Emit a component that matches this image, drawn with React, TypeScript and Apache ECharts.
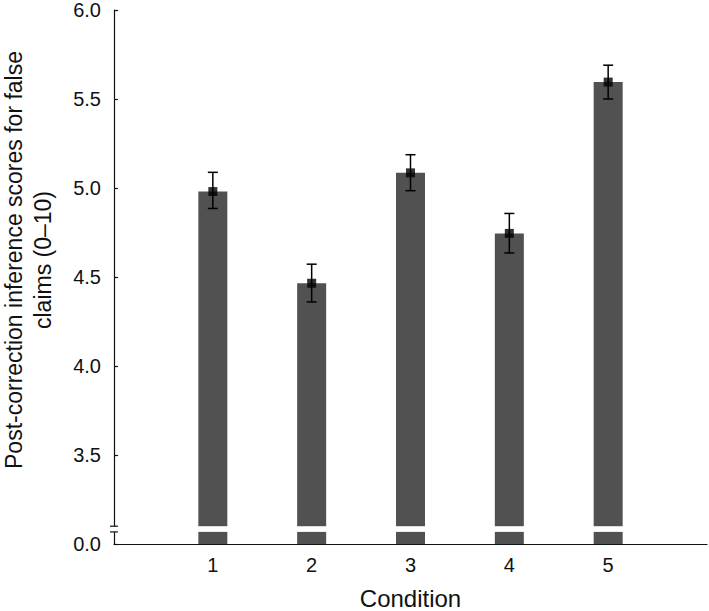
import React, { useEffect, useRef } from "react";
import * as echarts from "echarts";

// Data
const conditions = [1, 2, 3, 4, 5];
const means = [4.98, 4.465, 5.085, 4.745, 5.595];
const errLow = [4.885, 4.36, 4.985, 4.635, 5.5];
const errHigh = [5.088, 4.572, 5.187, 4.857, 5.69];
const yTicks = [3.0, 3.5, 4.0, 4.5, 5.0, 5.5, 6.0];

// Axis break (the bottom of the axis stands for 0.0)
const AXIS_MIN = 3.0;
const AXIS_MAX = 6.0;
const BREAK_LOW = 3.068;
const BREAK_HIGH = 3.1;

const FONT = "Liberation Sans, Arial, Helvetica, sans-serif";
const BAR_WIDTH = 29;

export default function App() {
  const ref = useRef<HTMLDivElement>(null);

  useEffect(() => {
    if (!ref.current) return;
    const chart = echarts.init(ref.current, undefined, { renderer: "svg" });

    const barData = conditions.map((c, i) => [c, means[i]]);
    const gapData = conditions.map((c) => [c, BREAK_LOW, BREAK_HIGH]);
    const errData = conditions.map((c, i) => [c, errLow[i], errHigh[i]]);
    const pointData = conditions.map((c, i) => [c, means[i]]);

    const barColor = "#515151";

    chart.setOption({
      animation: false,
      backgroundColor: "#ffffff",
      grid: {
        left: 114,
        right: 2,
        top: 10,
        bottom: 67,
        containLabel: false,
        outerBoundsMode: "none",
      },
      xAxis: {
        type: "value",
        min: 0,
        max: 6,
        interval: 1,
        name: "Condition",
        nameLocation: "middle",
        nameGap: 42,
        nameTextStyle: { fontFamily: FONT, fontSize: 24, color: "#111" },
        axisLine: { show: true, onZero: false, lineStyle: { color: "#111", width: 1.2 } },
        axisTick: { show: false },
        splitLine: { show: false },
        axisLabel: {
          fontFamily: FONT,
          fontSize: 20,
          color: "#111",
          margin: 11,
          formatter: (v: number) => (v >= 1 && v <= 5 ? String(v) : ""),
        },
      },
      yAxis: {
        type: "value",
        min: AXIS_MIN,
        max: AXIS_MAX,
        interval: 0.5,
        name: "Post-correction inference scores for false\nclaims (0\u201310)",
        nameLocation: "middle",
        nameGap: 57,
        nameTextStyle: {
          fontFamily: FONT,
          fontSize: 23,
          color: "#111",
          lineHeight: 29,
          padding: [0, 0, 0, 34],
        },
        axisLine: { show: true, lineStyle: { color: "#111", width: 1.2 } },
        axisTick: { show: true, inside: true, length: 4, lineStyle: { color: "#111", width: 1.2 } },
        splitLine: { show: false },
        axisLabel: {
          fontFamily: FONT,
          fontSize: 20,
          color: "#111",
          margin: 13,
          formatter: (v: number) =>
            yTicks.includes(v) ? (v === AXIS_MIN ? "0.0" : v.toFixed(1)) : "",
        },
      },
      series: [
        {
          type: "bar",
          barWidth: BAR_WIDTH,
          data: barData,
          itemStyle: { color: barColor },
        },
        {
          // white break band across each bar
          type: "custom",
          z: 4,
          silent: true,
          data: gapData,
          renderItem: (params: any, api: any) => {
            const lo = api.coord([api.value(0), api.value(1)]);
            const hi = api.coord([api.value(0), api.value(2)]);
            return {
              type: "rect",
              shape: {
                x: lo[0] - BAR_WIDTH / 2 - 1,
                y: hi[1],
                width: BAR_WIDTH + 2,
                height: lo[1] - hi[1],
              },
              style: { fill: "#ffffff" },
            };
          },
        },
        {
          type: "custom",
          z: 5,
          data: errData,
          renderItem: (params: any, api: any) => {
            const x = api.value(0);
            const lo = api.coord([x, api.value(1)]);
            const hi = api.coord([x, api.value(2)]);
            const cap = 5;
            const style = { stroke: "#000", lineWidth: 1.5 };
            return {
              type: "group",
              children: [
                { type: "line", shape: { x1: lo[0], y1: lo[1], x2: hi[0], y2: hi[1] }, style },
                { type: "line", shape: { x1: hi[0] - cap, y1: hi[1], x2: hi[0] + cap, y2: hi[1] }, style },
                { type: "line", shape: { x1: lo[0] - cap, y1: lo[1], x2: lo[0] + cap, y2: lo[1] }, style },
              ],
            };
          },
        },
        {
          type: "scatter",
          z: 6,
          symbol: "rect",
          symbolSize: 9,
          data: pointData,
          itemStyle: { color: "#000" },
        },
        {
          // break marks on the y axis
          type: "custom",
          z: 10,
          clip: false,
          silent: true,
          data: [[0, BREAK_LOW, BREAK_HIGH]],
          renderItem: (params: any, api: any) => {
            const lo = api.coord([api.value(0), api.value(1)]);
            const hi = api.coord([api.value(0), api.value(2)]);
            const half = 4;
            const style = { stroke: "#111", lineWidth: 1.2 };
            return {
              type: "group",
              children: [
                {
                  type: "rect",
                  shape: { x: lo[0] - 2, y: hi[1], width: 4, height: lo[1] - hi[1] },
                  style: { fill: "#ffffff" },
                },
                { type: "line", shape: { x1: hi[0] - half, y1: hi[1], x2: hi[0] + half, y2: hi[1] }, style },
                { type: "line", shape: { x1: lo[0] - half, y1: lo[1], x2: lo[0] + half, y2: lo[1] }, style },
              ],
            };
          },
        },
      ],
    });

    return () => chart.dispose();
  }, []);

  return (
    <div
      ref={ref}
      style={{ position: "fixed", left: 0, top: 0, width: 709, height: 611, background: "#fff" }}
    />
  );
}
